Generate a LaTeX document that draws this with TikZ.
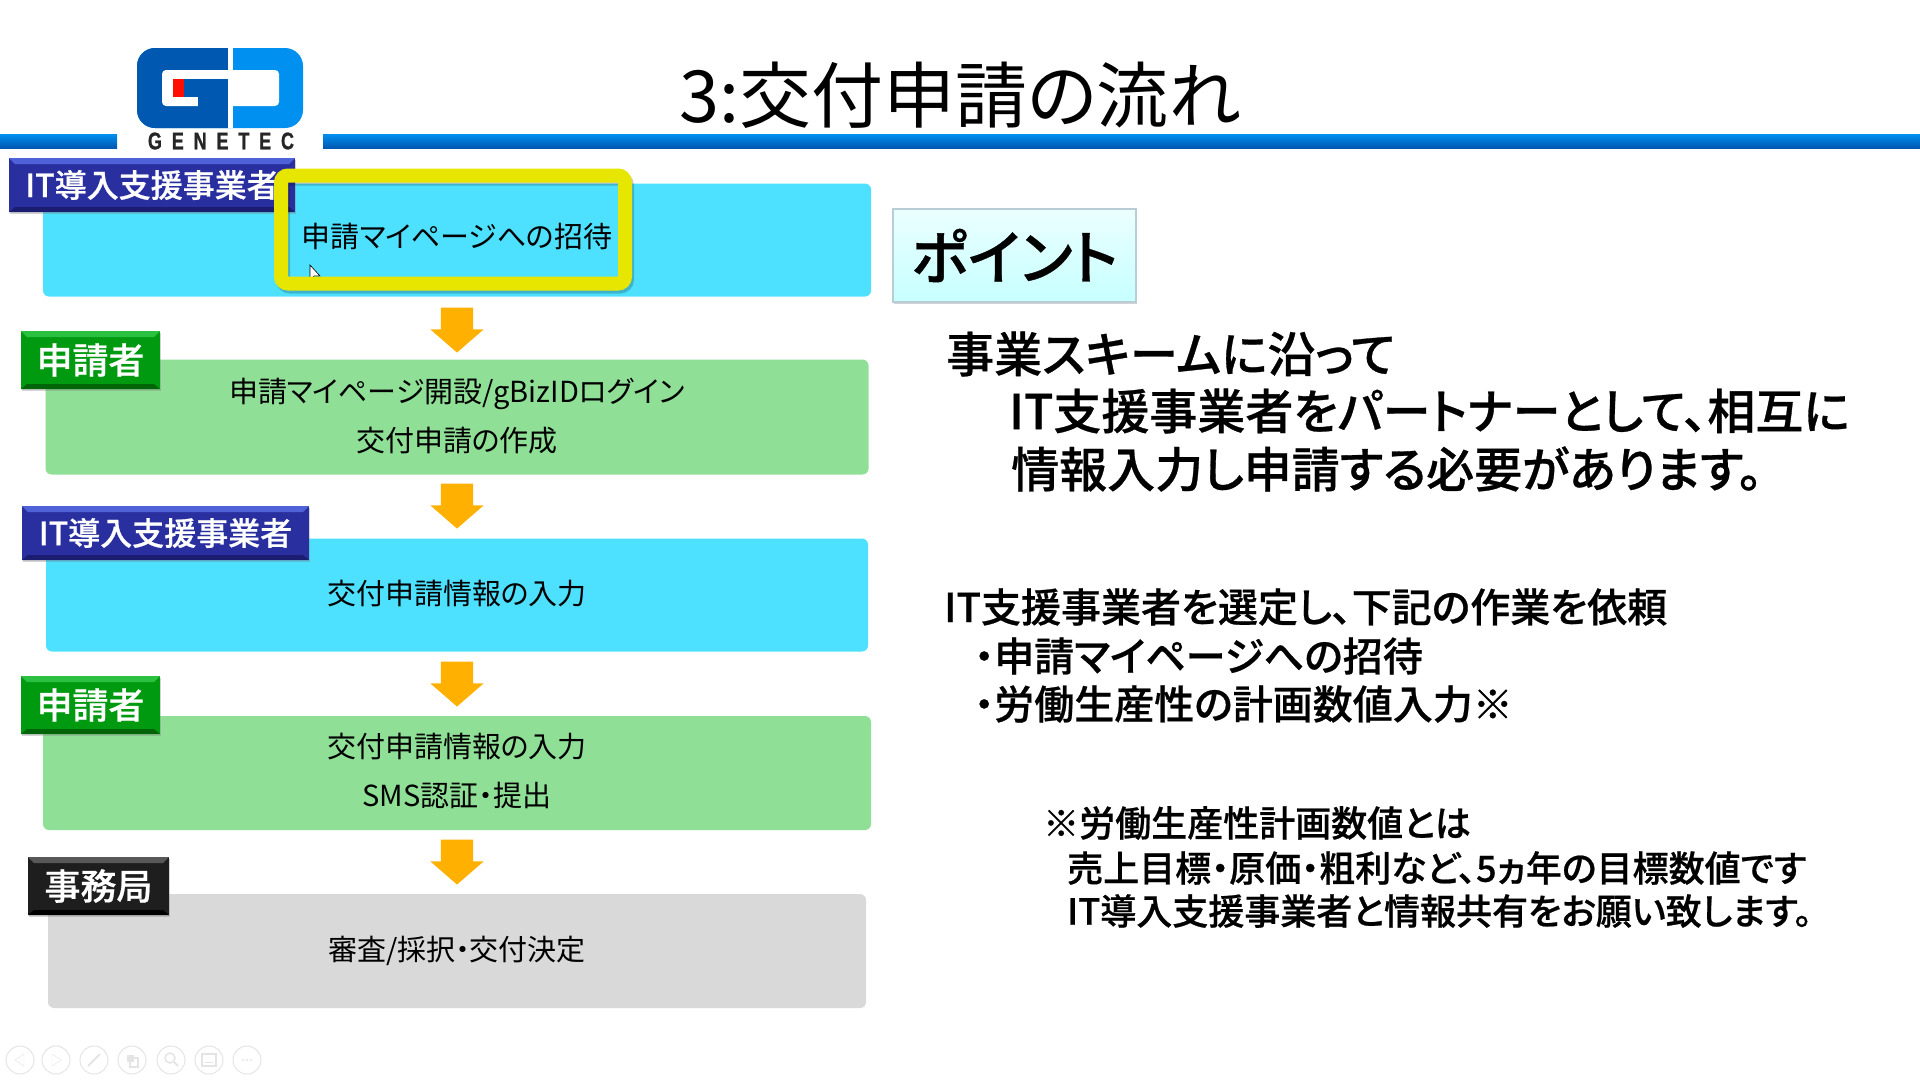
\documentclass[tikz,border=0pt]{standalone}
\usepackage{fontspec}
\setmainfont[RawFeature={+palt}]{Noto Sans CJK JP}
\newfontfamily\midfont[RawFeature={+palt},FakeBold=0.6]{Noto Sans CJK JP Medium}
\newfontfamily\logofont[LetterSpace=41,FakeStretch=0.75,FakeBold=1]{Liberation Sans}
\usetikzlibrary{shapes.arrows,shadows}
\newcommand{\fsz}[1]{\fontsize{#1}{#1}\selectfont}
\definecolor{skybox}{HTML}{4DE1FF}
\definecolor{greenbox}{HTML}{8FE096}
\definecolor{greybox}{HTML}{D9D9D9}
\definecolor{logodark}{HTML}{0058B0}
\definecolor{logolight}{HTML}{0090F0}
\definecolor{iconline}{HTML}{E4E4E4}
\definecolor{markyellow}{HTML}{E6E600}
\definecolor{arroworange}{HTML}{FFB000}
\definecolor{indigomain}{HTML}{2A2FA0}
\definecolor{indigotop}{HTML}{4F62D8}
\definecolor{indigolow}{HTML}{1B1E70}
\definecolor{leafmain}{HTML}{009A10}
\definecolor{leaftop}{HTML}{2CC040}
\definecolor{leaflow}{HTML}{006408}
\definecolor{inkmain}{HTML}{1E1E1E}
\definecolor{inktop}{HTML}{585858}
\definecolor{inklow}{HTML}{000000}
\tikzset{
  flowbox/.style={rectangle, rounded corners=6pt, inner sep=0pt, text=black, align=center, font=\fontsize{29}{49}\selectfont},
  rolebevel/.style n args={3}{rectangle, text=white, inner sep=0pt, fill=#1,
    drop shadow={shadow xshift=1pt, shadow yshift=-2pt, opacity=.35},
    path picture={
      \fill[#2] (path picture bounding box.north west) -- (path picture bounding box.north east)
        -- ([shift={(-6pt,-6pt)}]path picture bounding box.north east) -- ([shift={(6pt,-6pt)}]path picture bounding box.north west) -- cycle;
      \fill[#3] (path picture bounding box.south west) -- (path picture bounding box.south east)
        -- ([shift={(-6pt,5pt)}]path picture bounding box.south east) -- ([shift={(6pt,5pt)}]path picture bounding box.south west) -- cycle;
    }},
  rolefont/.style={font=\midfont\fsz{32}},
  rolebig/.style={font=\midfont\fsz{36}},
  rolesky/.style={rolebevel={indigomain}{indigotop}{indigolow}, rolefont},
  rolegreen/.style={rolebevel={leafmain}{leaftop}{leaflow}, rolebig},
  roleblack/.style={rolebevel={inkmain}{inktop}{inklow}, rolebig},
  downarrow/.style={single arrow, shape border rotate=270, fill=arroworange, draw=none, inner xsep=16pt, inner ysep=0pt,
    minimum width=53pt, minimum height=45pt, single arrow head extend=10.5pt, single arrow tip angle=98, single arrow head indent=0pt},
  bigline/.style={anchor=west, inner sep=0pt, text=black, font=\midfont\fsz{48}},
  midline/.style={anchor=west, inner sep=0pt, text=black, font=\midfont\fsz{40}},
  smallline/.style={anchor=west, inner sep=0pt, text=black, font=\midfont\fsz{36}},
  navbtn/.style={circle, draw=iconline, line width=1pt, minimum size=28pt, inner sep=0pt}
}
\begin{document}
\begin{tikzpicture}[x=1pt,y=-1pt]
\useasboundingbox (0,0) rectangle (1920,1080);

% title and rule
\node[inner sep=0pt, text=black, font=\fsz{72}] (Title) at (960,95) {3:交付申請の流れ};
\shade[top color=logolight, bottom color=logodark] (0,134) rectangle (117,148);
\shade[top color=logolight, bottom color=logodark] (323,134) rectangle (1920,148);

% logo
\fill[logolight, rounded corners=18pt] (137,48) rectangle (303,128);
\begin{scope}
\clip (137,48) rectangle (228,128);
\fill[logodark, rounded corners=18pt] (137,48) rectangle (303,128);
\end{scope}
\fill[white] (228,48) rectangle (233,128);
\fill[white, rounded corners=4pt] (162,70) rectangle (279,106);
\fill[logodark] (184,79) rectangle (228,97);
\fill[logodark] (198,79) rectangle (228,128);
\fill[red!90!orange] (173,79) rectangle (184,97);
\node[inner sep=0pt, text=black!85, font=\logofont\bfseries\fsz{24}] (LogoName) at (221,141) {GENETEC};

% boxes
\node[flowbox, fill=skybox, text depth=10pt, minimum width=828pt, minimum height=113pt] (Box1) at (457,240) {申請マイページへの招待};
\node[flowbox, fill=greenbox, text depth=4pt, minimum width=823pt, minimum height=115pt] (Box2) at (457,417) {申請マイページ開設/gBizIDログイン\\交付申請の作成};
\node[flowbox, fill=skybox, text depth=6pt, minimum width=822pt, minimum height=113pt] (Box3) at (457,595) {交付申請情報の入力};
\node[flowbox, fill=greenbox, text depth=6pt, minimum width=828pt, minimum height=114pt] (Box4) at (457,773) {交付申請情報の入力\\SMS認証・提出};
\node[flowbox, fill=greybox, minimum width=818pt, minimum height=114pt] (Box5) at (457,951) {審査/採択・交付決定};

% roles
\node[rolesky, minimum width=286pt, minimum height=54pt] (Role1) at (152,185) {IT導入支援事業者};
\node[rolegreen, minimum width=139pt, minimum height=58pt] (Role2) at (90.5,360) {申請者};
\node[rolesky, minimum width=287pt, minimum height=54pt] (Role3) at (165.5,533) {IT導入支援事業者};
\node[rolegreen, minimum width=139pt, minimum height=58pt] (Role4) at (90.5,705) {申請者};
\node[roleblack, minimum width=141pt, minimum height=58pt] (Role5) at (98.5,886) {事務局};

% arrows
\node[downarrow] (Arrow1) at (457,323) {};
\node[downarrow] (Arrow2) at (457,499) {};
\node[downarrow] (Arrow3) at (457,677) {};
\node[downarrow] (Arrow4) at (457,855) {};

% cursor and highlight
\fill[white, draw=black, line width=.6pt] (310,265) -- (310,280) -- (314,276) -- (320,276) -- cycle;
\node[rectangle, rounded corners=7pt, draw=markyellow, line width=14pt, minimum width=344pt, minimum height=108pt,
  preaction={draw=black, opacity=.2, transform canvas={shift={(2pt,-3pt)}}}] (Focus) at (453,229.5) {};

% point box
\node[rectangle, draw=cyan!30!gray!50, line width=1.5pt, top color=cyan!8, bottom color=cyan!22, inner sep=0pt,
  minimum width=243pt, minimum height=93pt, text=black, font=\midfont\fsz{59},
  drop shadow={shadow xshift=1pt, shadow yshift=-2pt, opacity=.35}] (Point) at (1014.5,255.5) {ポイント};

% right text
\node[bigline] (Line1) at (946,354) {事業スキームに沿って};
\node[bigline] (Line2) at (1009,411) {IT支援事業者をパートナーとして、相互に};
\node[bigline] (Line3) at (1011,469) {情報入力し申請する必要があります。};
\node[midline] (Line4) at (944,607) {IT支援事業者を選定し、下記の作業を依頼};
\node[midline] (Line5) at (974,656) {・申請マイページへの招待};
\node[midline] (Line6) at (974,704) {・労働生産性の計画数値入力※};
\node[smallline] (Line7) at (1043,823) {※労働生産性計画数値とは};
\node[smallline] (Line8) at (1067,868) {売上目標・原価・粗利など、5ヵ年の目標数値です};
\node[smallline] (Line9) at (1067,911) {IT導入支援事業者と情報共有をお願い致します。};

% slide show buttons
\node[navbtn] (Btn1) at (20,1060) {};
\node[navbtn] (Btn2) at (56,1060) {};
\node[navbtn] (Btn3) at (94,1060) {};
\node[navbtn] (Btn4) at (132,1060) {};
\node[navbtn] (Btn5) at (171,1060) {};
\node[navbtn] (Btn6) at (209,1060) {};
\node[navbtn] (Btn7) at (247,1060) {};
\draw[iconline] (15,1060) -- (24,1054) -- (24,1066) -- cycle;
\draw[iconline] (61,1060) -- (52,1054) -- (52,1066) -- cycle;
\draw[iconline, line width=2pt] (88,1066) -- (100,1054);
\draw[iconline, fill=iconline] (127,1055) rectangle (133,1061);
\draw[iconline, line width=1.5pt] (130,1058) rectangle (138,1067);
\draw[iconline, line width=1.5pt] (170,1058) circle[radius=5pt];
\draw[iconline, line width=2pt] (174,1062) -- (178,1066);
\draw[iconline, line width=1.2pt] (202,1054) rectangle (216,1066);
\draw[iconline, line width=1pt] (205,1062) -- (213,1062);
\foreach \dotx in {243,247,251}
  \draw[iconline] (\dotx,1060) circle[radius=1.2pt];
\end{tikzpicture}
\end{document}
